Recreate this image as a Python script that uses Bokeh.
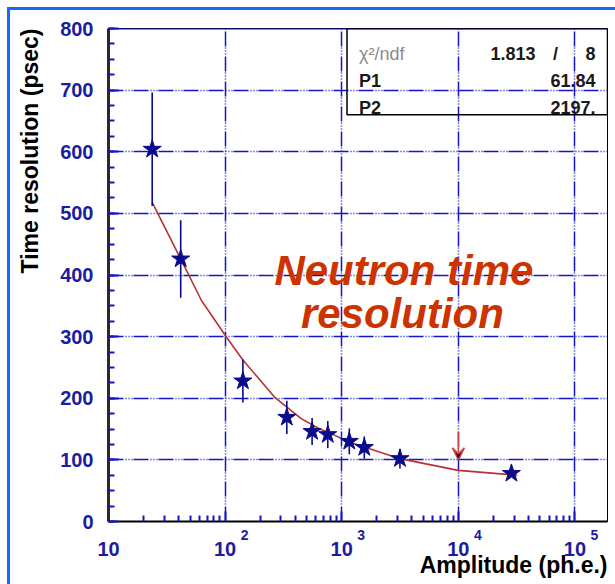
import math
from bokeh.plotting import figure
from bokeh.models import (FixedTicker, Label, BoxAnnotation, Arrow, VeeHead, Span, LogAxis,
                          Title)
from bokeh.embed import file_html
from bokeh.resources import INLINE

# ---- data ----
amplitude = [23.7, 41.6, 142, 338, 557, 759, 1161, 1561, 3155, 28500]
resolution = [604, 426, 228, 169, 146, 141, 130, 120, 102, 78]
res_error = [92, 63, 35, 27, 22, 22, 21, 18, 16, 0]

fit_amplitude = [23.7, 41.6, 62.5, 102.8, 142, 265, 449, 643, 759, 1161, 1561, 3155, 9950, 32070]
fit_resolution = [518, 426, 359, 299, 262, 202, 167, 150.5, 145, 129, 121, 102, 83, 75]

arrow_x = 1e4
arrow_y_from = 145
arrow_y_to = 100

x_major = [10, 100, 1000, 10000, 100000]
x_base = ["10", "10", "10", "10", "10"]
x_exponents = ["", "2", "3", "4", "5"]
x_minor = [m * d for d in [10, 100, 1000, 10000, 100000] for m in range(2, 10)]
y_major = [0, 100, 200, 300, 400, 500, 600, 700, 800]
y_minor = [v for v in range(0, 801, 25)]

stats_rows = [("P1", "61.84"), ("P2", "2197.")]
chi2_text = "1.813"
ndf_text = "8"

x_title = "Amplitude (ph.e.)"
y_title = "Time resolution (psec)"

# ---- styling ----
GRID = "#1414c4"
TICKLAB = "#1c1c9e"
FONT = "Liberation Sans"
FRAME_BLUE = "#1a66ff"
PAD = "\u00a0" * 10   # shifts an exponent to the right of its decade label

p = figure(width=615, height=584, x_axis_type="log", x_range=(10, 1.9e5), y_range=(0, 800),
           output_backend="svg", toolbar_location=None,
           min_border_left=107, min_border_right=8, min_border_top=28, min_border_bottom=63)
p.background_fill_color = "white"
p.border_fill_alpha = 0
p.outline_line_color = "black"
p.outline_line_width = 1
p.styles = {"background": ("linear-gradient(%s,%s) 7px 7px / 3px 577px no-repeat, "
                           "linear-gradient(%s,%s) 7px 7px / 608px 3px no-repeat, #ffffff")
            % (FRAME_BLUE, FRAME_BLUE, FRAME_BLUE, FRAME_BLUE)}

# main x axis: ticks + exponents
xax = p.xaxis[0]
xax.ticker = FixedTicker(ticks=x_major, minor_ticks=x_minor)
xax.major_label_overrides = {t: (PAD + e if e else "") for t, e in zip(x_major, x_exponents)}
p.yaxis.ticker = FixedTicker(ticks=y_major, minor_ticks=y_minor)

for ax in (xax, p.yaxis[0]):
    ax.major_tick_in = 10
    ax.major_tick_out = 0
    ax.minor_tick_in = 6
    ax.minor_tick_out = 0
    ax.major_tick_line_color = GRID
    ax.minor_tick_line_color = GRID
    ax.major_tick_line_width = 2
    ax.minor_tick_line_width = 2
    ax.major_label_text_font = FONT
    ax.major_label_text_font_style = "bold"
    ax.major_label_text_color = TICKLAB
xax.major_label_text_font_size = "14px"
xax.major_label_standoff = 5
xax.axis_line_color = "black"
xax.axis_line_width = 2

yax = p.yaxis[0]
yax.major_label_text_font_size = "20px"
yax.axis_line_color = "#2b2b2b"
yax.axis_line_width = 3
yax.major_label_standoff = 15

# second x axis below: the "10" bases
xbase = LogAxis(ticker=FixedTicker(ticks=x_major, minor_ticks=[]),
                major_label_overrides={t: b for t, b in zip(x_major, x_base)})
xbase.axis_line_color = None
xbase.major_tick_line_color = None
xbase.minor_tick_line_color = None
xbase.major_tick_in = 0
xbase.major_tick_out = 0
xbase.major_label_standoff = -4
xbase.major_label_text_font = FONT
xbase.major_label_text_font_size = "20px"
xbase.major_label_text_font_style = "bold"
xbase.major_label_text_color = TICKLAB
p.add_layout(xbase, "below")

# axis titles, flush with the end of each axis
def make_title(text, standoff):
    t = Title(text=text, align="right", text_font=FONT, text_font_size="23px",
              text_font_style="bold", text_color="black")
    try:
        t.standoff = standoff
    except Exception:
        t.standoff = 0
    return t

p.add_layout(make_title(x_title, -18), "below")
p.add_layout(make_title(y_title, 29), "left")

for g in (p.xgrid, p.ygrid):
    g.grid_line_color = GRID
    g.grid_line_width = 1.5
    g.grid_line_dash = "15 2 1 2 1 2 1 1"

p.add_layout(Span(location=800, dimension="width", line_color=GRID, line_width=2))

# fit curve
p.line(fit_amplitude, fit_resolution, line_color="#b83232", line_width=1.6)

# error bars and points
lo = [r - e for r, e in zip(resolution, res_error)]
hi = [r + e for r, e in zip(resolution, res_error)]
p.segment(x0=amplitude, y0=lo, x1=amplitude, y1=hi, line_color="#0a0a8c", line_width=1.6)
p.scatter(amplitude, resolution, marker="star", size=19, fill_color="#0a0a8c",
          line_color="#0a0a8c")

# arrow at 10^4
p.add_layout(Arrow(x_start=arrow_x, y_start=arrow_y_from, x_end=arrow_x, y_end=arrow_y_to,
                   line_color="#d04545", line_width=1.5,
                   end=VeeHead(size=12, line_color="#d04545", line_width=1.5)))

# stats box
p.add_layout(BoxAnnotation(left=1109, right=1.9e5, top=800, bottom=660,
                           fill_alpha=0, line_color="black", line_width=1.5, line_alpha=1))
p.add_layout(Label(x=1406, y=759, text="\u03c7\u00b2/ndf", text_font=FONT, text_font_size="18px",
                   text_color="#8a8a8a", text_align="left", text_baseline="alphabetic"))
p.add_layout(Label(x=45960, y=759, text=chi2_text, text_font=FONT, text_font_size="18px",
                   text_font_style="bold", text_color="#1a1a1a", text_align="right",
                   text_baseline="alphabetic"))
p.add_layout(Label(x=68200, y=759, text="/", text_font=FONT, text_font_size="18px",
                   text_font_style="bold", text_color="#1a1a1a", text_align="center",
                   text_baseline="alphabetic"))
p.add_layout(Label(x=150000, y=759, text=ndf_text, text_font=FONT, text_font_size="18px",
                   text_font_style="bold", text_color="#1a1a1a", text_align="right",
                   text_baseline="alphabetic"))
for (name, val), yb in zip(stats_rows, [715.6, 671.8]):
    p.add_layout(Label(x=1406, y=yb, text=name, text_font=FONT, text_font_size="18px",
                       text_font_style="bold", text_color="#1a1a1a", text_align="left",
                       text_baseline="alphabetic"))
    p.add_layout(Label(x=150000, y=yb, text=val, text_font=FONT, text_font_size="18px",
                       text_font_style="bold", text_color="#1a1a1a", text_align="right",
                       text_baseline="alphabetic"))

# title text
p.add_layout(Label(x=3412, y=407.3, text="Neutron time", text_font=FONT, text_font_size="42px",
                   text_font_style="bold italic", text_color="#cc3300", text_align="center",
                   text_baseline="alphabetic"))
p.add_layout(Label(x=3312, y=337.5, text="resolution", text_font=FONT, text_font_size="42px",
                   text_font_style="bold italic", text_color="#cc3300", text_align="center",
                   text_baseline="alphabetic"))

open("out.html", "w").write(file_html(p, INLINE))
